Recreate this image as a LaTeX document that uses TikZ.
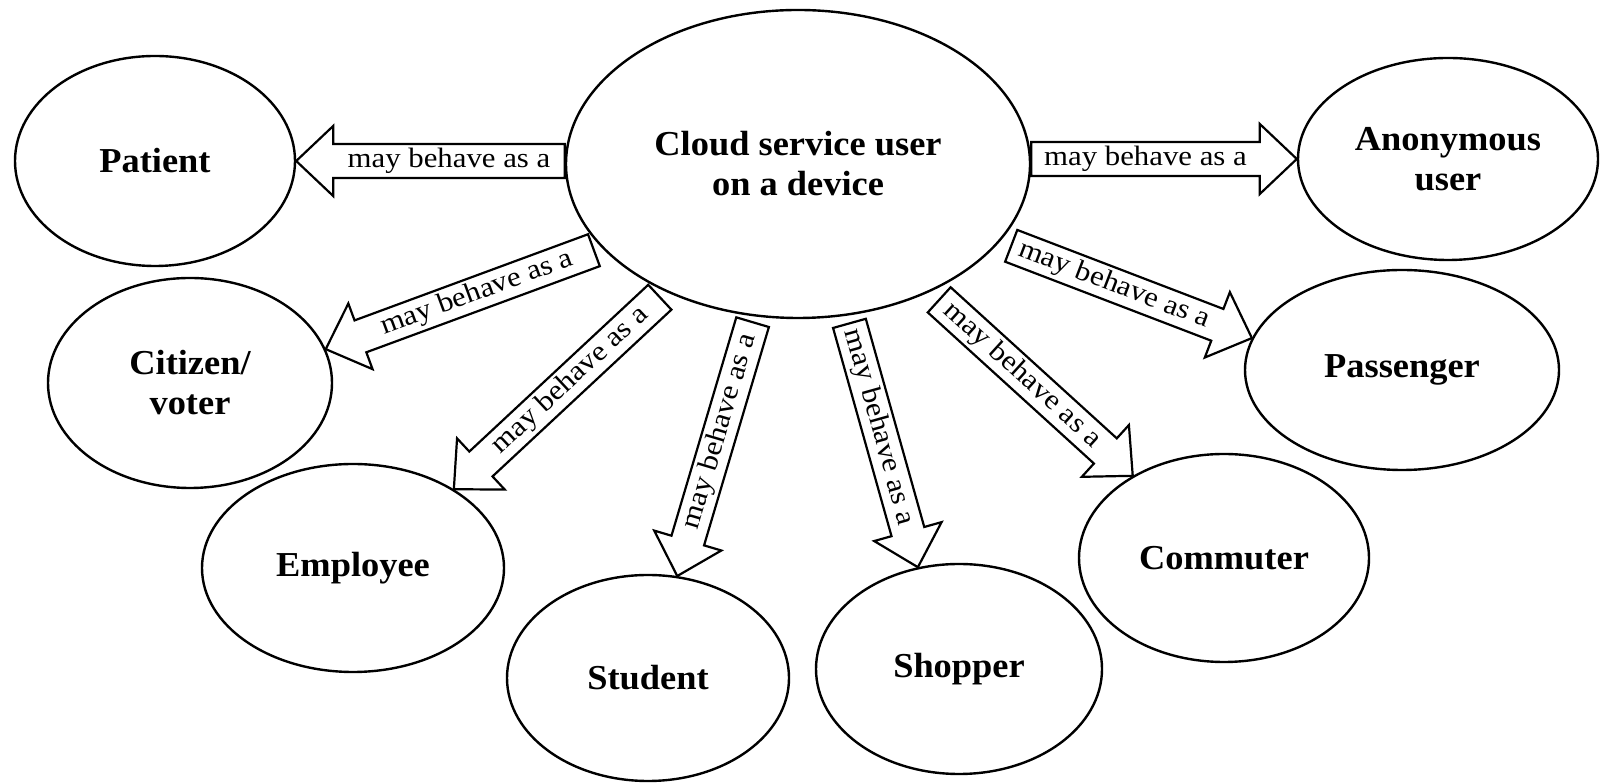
\documentclass[tikz,border=0pt]{standalone}
\usepackage{fontspec}
\setmainfont{Liberation Serif}
\newfontfamily\rolefont[FakeStretch=1.04]{Liberation Serif}
\newfontfamily\linkfont[FakeStretch=1.1]{Liberation Serif}
\usetikzlibrary{shapes.geometric,calc}

% half shaft width, half head width and head length of the "may behave as a" arrows
\newcommand\shaftw{17pt}
\newcommand\headw{35pt}
\newcommand\headlen{37pt}

\tikzset{
  role/.style={ellipse, draw, line width=2.4pt, inner sep=0pt, align=center,
    font=\rolefont\bfseries\fontsize{35}{40}\selectfont},
  linkarrow/.style={draw, line width=2.2pt, fill=white, line join=miter},
  linktext/.style={font=\linkfont\fontsize{28}{30}\selectfont, inner sep=0pt},
}

% block arrow from #1 (tail) to #2 (tip) carrying the relation text
\newcommand\behaveArrow[2]{%
  \coordinate (hb) at ($(#2)!\headlen!(#1)$);
  \draw[linkarrow]
    ($(#1)!\shaftw!90:(#2)$) -- ($(hb)!\shaftw!-90:(#1)$) -- ($(hb)!\headw!-90:(#1)$)
    -- (#2) -- ($(hb)!\headw!90:(#1)$) -- ($(hb)!\shaftw!90:(#1)$)
    -- ($(#1)!\shaftw!-90:(#2)$) -- cycle;
  \path (#1) -- (hb) node[midway, sloped, linktext] {may behave as a};
}

\begin{document}
\begin{tikzpicture}[x=1pt, y=1pt]
\useasboundingbox (0,0) rectangle (1600,783);

% roles
\node[role, minimum width=464, minimum height=308] (cloud) at (798,619) {Cloud service user\\on a device};
\node[role, minimum width=280, minimum height=210] (patient) at (155,622) {Patient};
\node[role, minimum width=300, minimum height=202] (anon) at (1448,624) {Anonymous\\user};
\node[role, minimum width=284, minimum height=210] (citizen) at (190,400) {Citizen/\\voter};
\node[role, minimum width=302, minimum height=208] (employee) at (353,215) {Employee};
\node[role, minimum width=282, minimum height=206] (student) at (648,105) {Student};
\node[role, minimum width=286, minimum height=210] (shopper) at (959,114) {Shopper};
\node[role, minimum width=290, minimum height=208] (commuter) at (1224,225) {Commuter};
\node[role, minimum width=314, minimum height=200] (passenger) at (1402,413) {Passenger};

% arrow tails on the central ellipse
\coordinate (t-patient) at (cloud.west |- patient.east);
\coordinate (t-anon) at (cloud.east |- anon.west);
\coordinate (t-citizen) at ($(cloud.203)!8pt!(citizen.14)$);
\coordinate (t-employee) at ($(cloud.224)!8pt!(employee.38)$);
\coordinate (t-student) at ($(cloud.254)!6pt!(student.74)$);
\coordinate (t-shopper) at ($(cloud.288)!8pt!(shopper.112)$);
\coordinate (t-commuter) at ($(cloud.316)!12pt!(commuter.138)$);
\coordinate (t-passenger) at ($(cloud.339)!12pt!(passenger.168)$);

% relations
\behaveArrow{t-patient}{patient.east}
\behaveArrow{t-anon}{anon.west}
\behaveArrow{t-citizen}{citizen.14}
\behaveArrow{t-employee}{employee.38}
\behaveArrow{t-student}{student.74}
\behaveArrow{t-shopper}{shopper.112}
\behaveArrow{t-commuter}{commuter.138}
\behaveArrow{t-passenger}{passenger.168}
\end{tikzpicture}
\end{document}
